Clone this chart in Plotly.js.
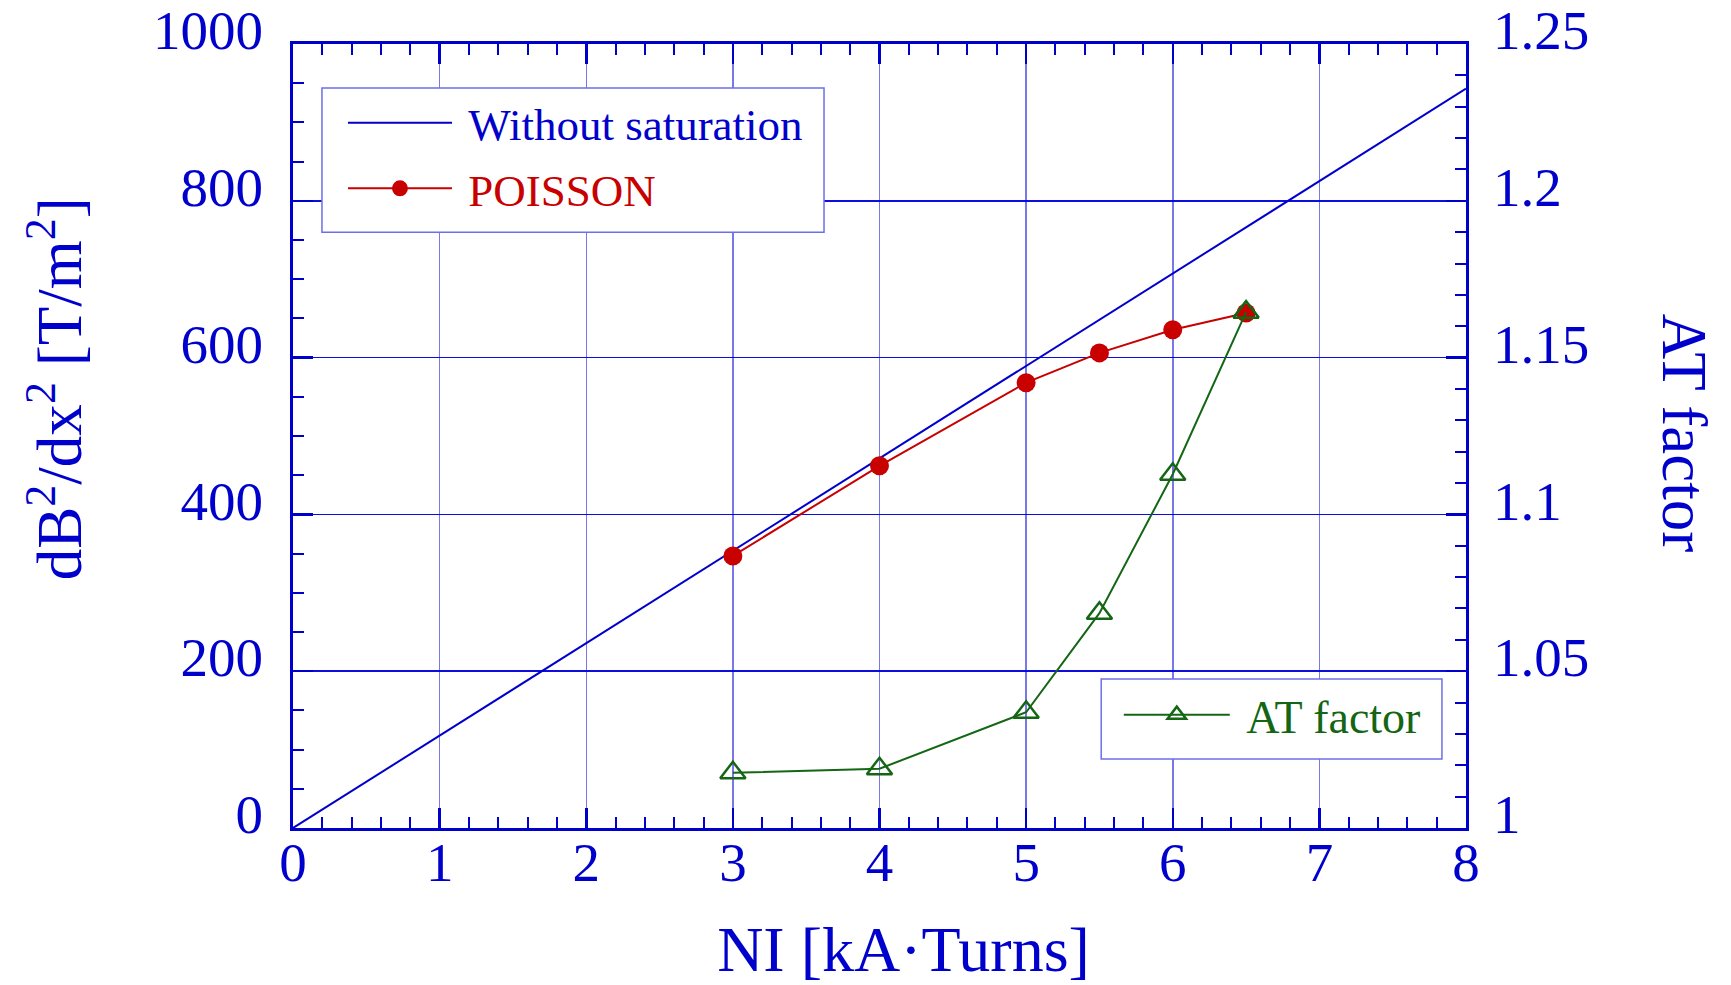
<!DOCTYPE html>
<html>
<head>
<meta charset="utf-8">
<script src="https://cdn.plot.ly/plotly-3.0.1.min.js"></script>
<style>html,body{margin:0;padding:0;background:#fff;}#chart{width:1731px;height:985px;}</style>
</head>
<body>
<div id="chart"></div>
<script>
// Data
var linearNI = [0, 8];
var linearGrad = [0, 943];

var poissonNI = [3, 4, 5, 5.5, 6, 6.5];
var poissonGrad = [347, 462, 568, 606, 635.5, 657];

var atNI = [3, 4, 5, 5.5, 6, 6.5];
var atFactor = [1.0176, 1.0189, 1.0369, 1.0685, 1.1128, 1.1645];

var BLUE = '#0000cc';
var RED = '#c80000';
var GREEN = '#146614';
var BOX = '#6e6eea';
var FONT = 'Liberation Serif, Times New Roman, serif';

var traces = [
  {
    x: linearNI, y: linearGrad, type: 'scatter', mode: 'lines',
    name: '&nbsp;<span style="color:' + BLUE + '">Without saturation</span>',
    line: {color: BLUE, width: 2},
    legend: 'legend', legendgroup: 'a'
  },
  {
    x: poissonNI, y: poissonGrad, type: 'scatter', mode: 'lines+markers',
    name: '&nbsp;<span style="color:' + RED + '">POISSON</span>',
    line: {color: RED, width: 2},
    marker: {color: RED, size: 19, symbol: 'circle'},
    legend: 'legend', legendgroup: 'b'
  },
  {
    x: atNI, y: atFactor, type: 'scatter', mode: 'lines+markers', yaxis: 'y2',
    name: '&nbsp;<span style="color:' + GREEN + '">AT factor</span>',
    line: {color: GREEN, width: 2},
    marker: {color: GREEN, size: 22, symbol: 'triangle-up-open', line: {color: GREEN, width: 2.5}},
    legend: 'legend2'
  }
];

var tickCommon = {
  ticks: 'inside', ticklen: 20, tickwidth: 2.5, tickcolor: BLUE,
  showline: true, linewidth: 3, linecolor: BLUE, zeroline: false,
  tickfont: {family: FONT, size: 55, color: BLUE}
};

var layout = {
  width: 1731, height: 985,
  margin: {l: 293, r: 265, t: 44, b: 157, pad: 0},
  paper_bgcolor: 'white', plot_bgcolor: 'white',
  font: {family: FONT, color: BLUE},
  showlegend: true,
  xaxis: Object.assign({}, tickCommon, {
    range: [0, 8], dtick: 1, tick0: 0, mirror: 'ticks',
    showgrid: true, gridcolor: 'rgba(30,30,220,0.6)', gridwidth: 1.5,
    ticklabelstandoff: -16,
    minor: {dtick: 0.2, ticks: 'inside', ticklen: 11, tickwidth: 2, tickcolor: BLUE, showgrid: false},
    title: {text: '&nbsp;&nbsp;&nbsp;NI [kA·Turns]', font: {family: FONT, size: 64, color: BLUE}, standoff: 36}
  }),
  yaxis: Object.assign({}, tickCommon, {
    range: [0, 1000], dtick: 200, tick0: 0,
    showgrid: true, gridcolor: 'rgba(0,0,220,0.95)', gridwidth: 1.5,
    ticklabelstandoff: 16, ticklabelshift: -14,
    minor: {dtick: 50, ticks: 'inside', ticklen: 11, tickwidth: 2, tickcolor: BLUE, showgrid: false},
    title: {text: '&nbsp;&nbsp;&nbsp;&nbsp;&nbsp;&nbsp;dB<sup>2</sup>/dx<sup>2</sup> [T/m<sup>2</sup>]', font: {family: FONT, size: 63, color: BLUE}, standoff: 51}
  }),
  yaxis2: Object.assign({}, tickCommon, {
    overlaying: 'y', side: 'right', anchor: 'x',
    range: [1, 1.25], dtick: 0.05, tick0: 1,
    showgrid: false, ticklabelstandoff: 13, ticklabelshift: -14,
    minor: {dtick: 0.01, ticks: 'inside', ticklen: 11, tickwidth: 2, tickcolor: BLUE, showgrid: false}
  }),
  legend: {
    x: 0.0426, y: 0.945, xanchor: 'left', yanchor: 'top',
    bgcolor: 'rgba(0,0,0,0)', borderwidth: 0,
    font: {family: FONT, size: 45, color: BLUE},
    itemwidth: 104, tracegroupgap: 4
  },
  legend2: {
    x: 0.704, y: 0.191, xanchor: 'left', yanchor: 'top',
    bgcolor: 'rgba(0,0,0,0)', borderwidth: 0,
    font: {family: FONT, size: 46, color: GREEN},
    itemwidth: 106
  },
  shapes: [
    {type: 'rect', xref: 'paper', yref: 'paper', x0: 0.0247, x1: 0.4527, y0: 0.760, y1: 0.944,
     fillcolor: 'white', line: {color: BOX, width: 1.5}, layer: 'above'},
    {type: 'rect', xref: 'paper', yref: 'paper', x0: 0.689, x1: 0.9795, y0: 0.088, y1: 0.190,
     fillcolor: 'white', line: {color: BOX, width: 1.5}, layer: 'above'}
  ],
  annotations: [{
    text: 'AT factor', xref: 'paper', yref: 'paper', x: 1.186, y: 0.504,
    xanchor: 'center', yanchor: 'middle', textangle: 90, showarrow: false,
    font: {family: FONT, size: 63, color: BLUE}
  }]
};

Plotly.newPlot('chart', traces, layout, {displayModeBar: false, staticPlot: true});
</script>
</body>
</html>
